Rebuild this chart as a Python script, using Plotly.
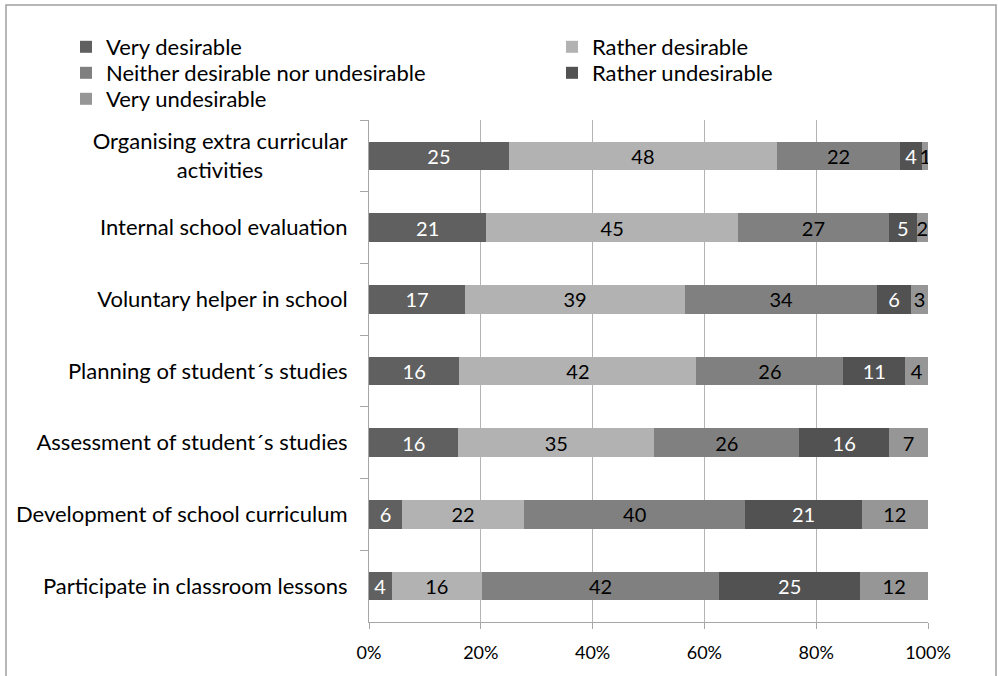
import plotly.graph_objects as go

# Survey items, listed top to bottom (the two-line label is padded so both lines centre)
categories = [
    "Organising extra curricular<br>activities" + "\u00a0" * 15,
    "Internal school evaluation",
    "Voluntary helper in school",
    "Planning of student\u00b4s studies",
    "Assessment of student\u00b4s studies",
    "Development of school curriculum",
    "Participate in classroom lessons",
]

very_desirable = [25, 21, 17, 16, 16, 6, 4]
rather_desirable = [48, 45, 39, 42, 35, 22, 16]
neither = [22, 27, 34, 26, 26, 40, 42]
rather_undesirable = [4, 5, 6, 11, 16, 21, 25]
very_undesirable = [1, 2, 3, 4, 7, 12, 12]

x_tick_values = [0, 20, 40, 60, 80, 100]
x_tick_labels = ["0%", "20%", "40%", "60%", "80%", "100%"]

W, H = 998, 676
PL, PR, PT, PB = 369, 928, 120, 622  # plot area in pixels
PW, PH = PR - PL, PB - PT

FONT = "Lato"


def px_to_paper_x(px):
    return (px - PL) / PW


def px_to_paper_y(py):
    return (PB - py) / PH


# name, values, fill, label colour, legend id, legend position (px: text left, row centre)
series = [
    ("Very desirable", very_desirable, "#606060", "white", "legend", (66, 47)),
    ("Rather desirable", rather_desirable, "#b2b2b2", "black", "legend2", (552, 47)),
    ("Neither desirable nor undesirable", neither, "#808080", "black", "legend3", (66, 73)),
    ("Rather undesirable", rather_undesirable, "#525252", "white", "legend4", (552, 73)),
    ("Very undesirable", very_undesirable, "#969696", "black", "legend5", (66, 99)),
]

fig = go.Figure()
legend_layouts = {}
for name, vals, color, tcolor, leg, (lx, ly) in series:
    fig.add_trace(go.Bar(
        y=categories,
        x=vals,
        name=name,
        orientation="h",
        marker=dict(color=color, line=dict(width=0)),
        text=[str(v) for v in vals],
        textposition="inside",
        insidetextanchor="middle",
        textangle=0,
        constraintext="none",
        textfont=dict(family=FONT, size=20, color=tcolor),
        legend=leg,
        hoverinfo="skip",
    ))
    legend_layouts[leg] = dict(
        x=px_to_paper_x(lx), y=px_to_paper_y(ly),
        xanchor="left", yanchor="middle",
        orientation="v",
        font=dict(family=FONT, size=22, color="black"),
        bgcolor="rgba(0,0,0,0)",
        borderwidth=0,
    )

fig.update_layout(
    width=W,
    height=H,
    margin=dict(l=PL, r=W - PR, t=PT, b=H - PB, pad=0),
    barmode="stack",
    barnorm="percent",
    bargap=0.6,
    plot_bgcolor="white",
    paper_bgcolor="white",
    font=dict(family=FONT, size=22, color="black"),
    xaxis=dict(
        range=[0, 100],
        tickvals=x_tick_values,
        ticktext=x_tick_labels,
        showgrid=True,
        gridcolor="#b4b4b4",
        gridwidth=1,
        zeroline=False,
        showline=True,
        linecolor="#a6a6a6",
        linewidth=1,
        ticks="outside",
        ticklen=6,
        tickcolor="#a6a6a6",
        tickfont=dict(family=FONT, size=18, color="black"),
        ticklabelstandoff=8,
        fixedrange=True,
    ),
    yaxis=dict(
        autorange="reversed",
        showline=True,
        linecolor="#a6a6a6",
        linewidth=1,
        ticks="outside",
        tickson="boundaries",
        ticklen=8,
        tickcolor="#a6a6a6",
        showgrid=False,
        tickfont=dict(family=FONT, size=22, color="black"),
        ticklabelstandoff=16,
        fixedrange=True,
    ),
    showlegend=True,
    **legend_layouts,
)

# Chart frame
fig.add_shape(
    type="rect", xref="paper", yref="paper",
    x0=px_to_paper_x(6), x1=px_to_paper_x(996),
    y0=px_to_paper_y(700), y1=px_to_paper_y(5),
    line=dict(color="#a0a0a0", width=1.5),
    fillcolor="rgba(0,0,0,0)",
    layer="below",
)

fig.write_html("out.html")
